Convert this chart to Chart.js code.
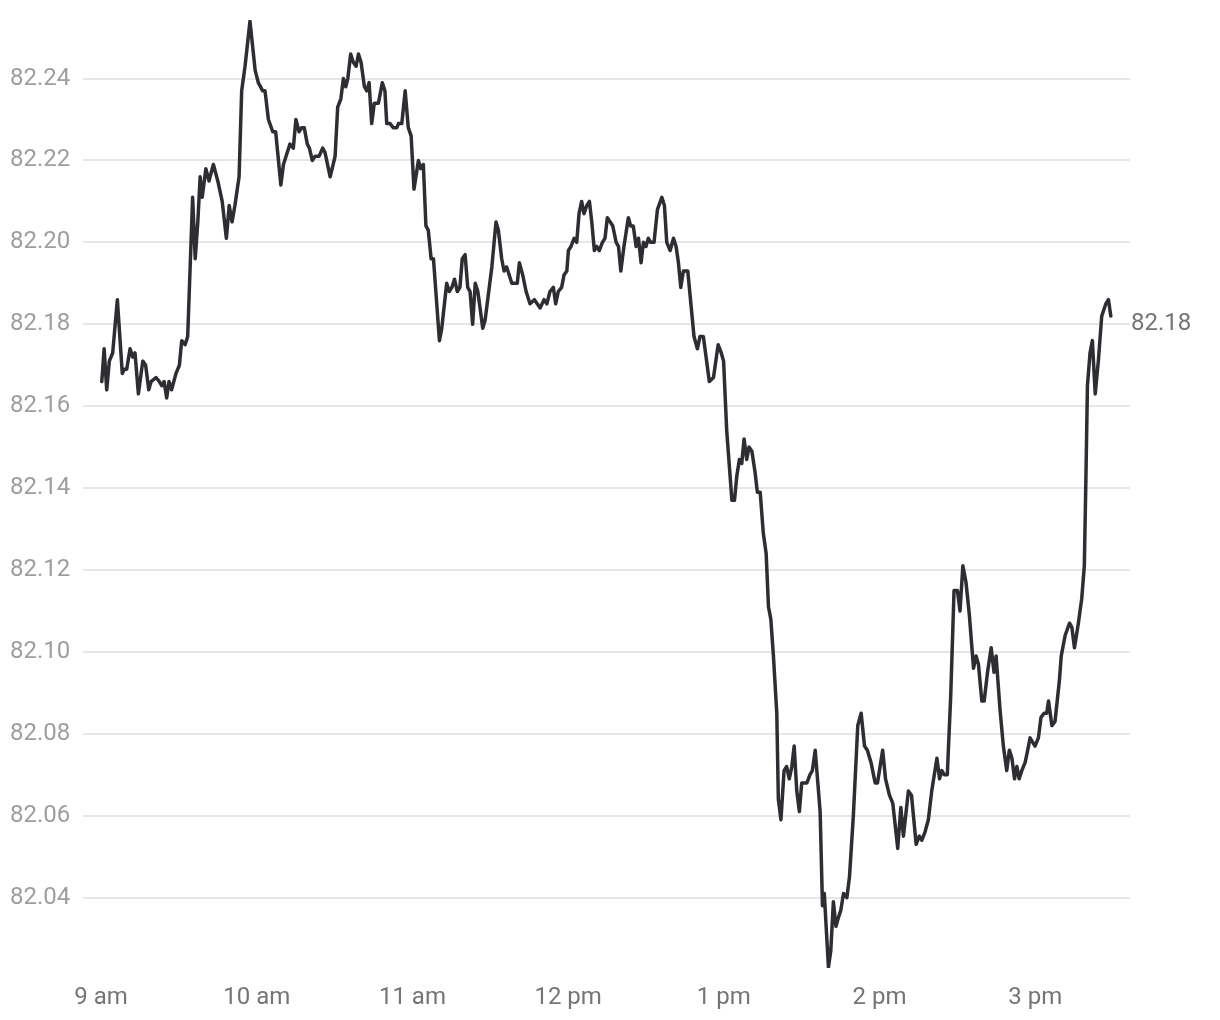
<!DOCTYPE html>
<html>
<head>
<meta charset="utf-8">
<script src="https://cdn.jsdelivr.net/npm/chart.js@4"></script>
<style>
  html, body { margin: 0; padding: 0; background: #fff; }
  .chart-wrap { width: 1220px; height: 1020px; position: relative; }
</style>
</head>
<body>
<div class="chart-wrap"><canvas id="chart-price"></canvas></div>
<script>
// minutes after 9:00 am
const minutes = [
  0.3, 1.2, 2.2, 3.2, 4.5, 6.3, 8.2, 9.0, 9.9, 11.2,
  12.2, 13.1, 14.4, 16.1, 17.2, 18.4, 19.3, 21.2, 22.5, 23.4,
  24.3, 25.3, 26.2, 27.2, 28.9, 30.2, 31.1, 32.4, 33.4, 35.3,
  36.3, 37.3, 38.2, 39.0, 40.4, 41.6, 43.3, 45.0, 46.7, 48.3,
  49.4, 50.5, 51.6, 53.2, 54.2, 55.5, 57.4, 59.4, 60.6, 62.3,
  63.2, 64.5, 66.2, 67.3, 69.3, 70.3, 72.8, 74.1, 75.1, 76.3,
  77.3, 78.3, 79.5, 80.3, 81.4, 82.5, 84.0, 85.4, 86.3, 88.3,
  90.2, 91.2, 92.4, 93.4, 94.3, 95.1, 96.2, 97.2, 98.3, 99.2,
  100.2, 101.5, 102.4, 103.3, 104.3, 105.3, 106.9, 108.4, 109.4, 110.1,
  111.4, 112.6, 114.0, 114.6, 115.9, 117.2, 118.4, 119.5, 120.6, 122.3,
  123.2, 124.2, 125.2, 126.1, 127.2, 128.1, 130.4, 131.3, 133.2, 134.2,
  135.2, 136.2, 137.3, 138.3, 139.2, 140.3, 141.3, 142.2, 143.2, 144.2,
  145.2, 147.1, 148.0, 150.6, 152.2, 153.1, 154.4, 155.3, 156.3, 158.3,
  159.3, 160.4, 161.2, 162.5, 163.8, 165.3, 167.0, 169.2, 170.7, 171.8,
  173.0, 174.3, 175.2, 176.2, 177.5, 178.4, 179.5, 180.1, 181.1, 182.3,
  183.3, 184.2, 185.2, 186.1, 187.2, 188.2, 189.1, 190.1, 191.0, 192.0,
  193.2, 194.2, 195.1, 196.2, 197.2, 198.5, 199.4, 200.3, 201.5, 203.2,
  204.1, 205.1, 206.2, 207.1, 208.1, 209.0, 210.0, 210.9, 211.8, 213.1,
  214.4, 216.1, 217.1, 218.0, 219.3, 220.6, 221.6, 222.5, 223.4, 224.4,
  226.1, 227.6, 228.5, 229.8, 230.8, 232.1, 234.4, 236.0, 237.8, 239.0,
  239.9, 241.1, 243.1, 244.1, 245.0, 246.0, 246.9, 247.8, 248.8, 249.7,
  250.8, 252.0, 252.9, 254.0, 255.2, 256.3, 257.2, 258.1, 259.1, 260.4,
  261.0, 262.0, 263.2, 264.2, 265.2, 266.2, 267.1, 268.1, 269.1, 270.0,
  272.0, 273.2, 274.1, 275.2, 277.1, 278.0, 278.7, 280.3, 281.2, 282.2,
  283.2, 284.1, 285.1, 286.1, 287.4, 288.4, 289.9, 291.6, 292.9, 294.2,
  295.3, 296.7, 298.3, 299.2, 301.2, 302.3, 303.8, 305.1, 307.0, 308.2,
  309.2, 311.1, 312.3, 314.1, 315.3, 316.3, 317.5, 318.8, 320.1, 322.1,
  323.1, 324.0, 324.9, 326.1, 327.4, 328.7, 330.0, 331.0, 332.1, 333.3,
  334.6, 336.2, 337.2, 338.1, 339.4, 340.3, 341.6, 343.0, 344.1, 344.9,
  346.4, 347.7, 349.0, 350.0, 351.0, 352.0, 352.9, 353.8, 354.8, 356.1,
  357.4, 358.0, 359.9, 361.2, 362.2, 363.4, 364.4, 365.1, 366.4, 367.6,
  369.3, 370.0, 371.5, 373.2, 374.1, 375.1, 376.6, 377.9, 378.9, 379.5,
  380.1, 381.1, 382.0, 383.1, 384.3, 385.6, 387.2, 388.2, 389.1
];

const prices = [
  82.166, 82.174, 82.164, 82.171, 82.173, 82.186, 82.168, 82.169, 82.169, 82.174,
  82.172, 82.173, 82.163, 82.171, 82.170, 82.164, 82.166, 82.167, 82.166, 82.165,
  82.166, 82.162, 82.166, 82.164, 82.168, 82.170, 82.176, 82.175, 82.177, 82.211,
  82.196, 82.205, 82.216, 82.211, 82.218, 82.215, 82.219, 82.215, 82.210, 82.201,
  82.209, 82.205, 82.209, 82.216, 82.237, 82.243, 82.254, 82.242, 82.239, 82.237,
  82.237, 82.230, 82.227, 82.227, 82.214, 82.219, 82.224, 82.223, 82.230, 82.227,
  82.228, 82.228, 82.224, 82.223, 82.220, 82.221, 82.221, 82.223, 82.222, 82.216,
  82.221, 82.233, 82.235, 82.240, 82.238, 82.240, 82.246, 82.244, 82.243, 82.246,
  82.244, 82.238, 82.237, 82.239, 82.229, 82.234, 82.234, 82.239, 82.237, 82.229,
  82.229, 82.228, 82.228, 82.229, 82.229, 82.237, 82.228, 82.226, 82.213, 82.220,
  82.218, 82.219, 82.204, 82.203, 82.196, 82.196, 82.176, 82.179, 82.190, 82.188,
  82.189, 82.191, 82.188, 82.189, 82.196, 82.197, 82.189, 82.188, 82.180, 82.190,
  82.188, 82.179, 82.181, 82.194, 82.205, 82.203, 82.196, 82.193, 82.194, 82.190,
  82.190, 82.190, 82.195, 82.192, 82.188, 82.185, 82.186, 82.184, 82.186, 82.185,
  82.188, 82.189, 82.185, 82.188, 82.189, 82.192, 82.193, 82.198, 82.199, 82.201,
  82.200, 82.207, 82.210, 82.207, 82.209, 82.210, 82.205, 82.198, 82.199, 82.198,
  82.200, 82.201, 82.206, 82.205, 82.204, 82.200, 82.199, 82.193, 82.199, 82.206,
  82.204, 82.204, 82.199, 82.201, 82.195, 82.200, 82.199, 82.201, 82.200, 82.200,
  82.208, 82.211, 82.209, 82.200, 82.198, 82.201, 82.199, 82.195, 82.189, 82.193,
  82.193, 82.183, 82.177, 82.174, 82.177, 82.177, 82.166, 82.167, 82.175, 82.173,
  82.171, 82.154, 82.137, 82.137, 82.143, 82.147, 82.146, 82.152, 82.147, 82.150,
  82.149, 82.144, 82.139, 82.139, 82.129, 82.124, 82.111, 82.108, 82.099, 82.085,
  82.064, 82.059, 82.071, 82.072, 82.069, 82.072, 82.077, 82.066, 82.061, 82.068,
  82.068, 82.070, 82.071, 82.076, 82.061, 82.038, 82.041, 82.023, 82.027, 82.039,
  82.033, 82.035, 82.037, 82.041, 82.040, 82.045, 82.060, 82.082, 82.085, 82.077,
  82.076, 82.073, 82.068, 82.068, 82.076, 82.069, 82.065, 82.063, 82.052, 82.062,
  82.055, 82.066, 82.065, 82.053, 82.055, 82.054, 82.056, 82.059, 82.066, 82.074,
  82.069, 82.071, 82.070, 82.070, 82.089, 82.115, 82.115, 82.110, 82.121, 82.117,
  82.109, 82.096, 82.099, 82.097, 82.088, 82.088, 82.095, 82.101, 82.095, 82.099,
  82.086, 82.077, 82.071, 82.076, 82.074, 82.069, 82.072, 82.069, 82.071, 82.073,
  82.077, 82.079, 82.077, 82.079, 82.084, 82.085, 82.085, 82.088, 82.082, 82.083,
  82.093, 82.099, 82.104, 82.107, 82.106, 82.101, 82.107, 82.113, 82.121, 82.142,
  82.165, 82.173, 82.176, 82.163, 82.171, 82.182, 82.185, 82.186, 82.182
];

const hourTicks = [0, 60, 120, 180, 240, 300, 360];
const hourLabels = ['9 am', '10 am', '11 am', '12 pm', '1 pm', '2 pm', '3 pm'];
const priceTicks = [82.04, 82.06, 82.08, 82.10, 82.12, 82.14, 82.16, 82.18, 82.20, 82.22, 82.24];

function drawChart() {
  const lastPrice = Math.round(prices[prices.length - 1] * 100) / 100;
  const yMin = 82.0228, yMax = 82.2543;
  const tickFont = { family: 'Roboto', size: 24 };

  new Chart(document.getElementById('chart-price'), {
    type: 'line',
    data: {
      datasets: [{
        data: minutes.map((m, i) => ({ x: m, y: prices[i] })),
        borderColor: '#2e2e32',
        borderWidth: 3.5,
        borderJoinStyle: 'round',
        borderCapStyle: 'round',
        pointRadius: 0,
        tension: 0,
        fill: false
      }]
    },
    options: {
      responsive: true, maintainAspectRatio: false, animation: false,
      layout: { padding: { left: 10, top: 20, right: 0, bottom: 0 } },
      plugins: { legend: { display: false }, tooltip: { enabled: false } },
      scales: {
        x: {
          type: 'linear', min: -6.94, max: 396.5,
          grid: { display: false, drawTicks: false },
          border: { display: false },
          afterBuildTicks: s => { s.ticks = hourTicks.map(v => ({ value: v })); },
          afterFit: s => { s.height = 52; },
          ticks: {
            autoSkip: false, maxRotation: 0, padding: 16,
            color: '#757575', font: tickFont,
            callback: (v, i) => hourLabels[i]
          }
        },
        y: {
          position: 'left', min: yMin, max: yMax,
          grid: { color: '#e6e6e6', lineWidth: 2, drawTicks: false },
          border: { display: false },
          afterBuildTicks: s => { s.ticks = priceTicks.map(v => ({ value: v })); },
          afterFit: s => { s.width = 73; },
          ticks: {
            crossAlign: 'far', padding: 0,
            color: '#9e9e9e', font: tickFont,
            callback: v => v.toFixed(2)
          }
        },
        yLast: {
          position: 'right', min: yMin, max: yMax,
          grid: { display: false, drawTicks: false },
          border: { display: false },
          afterBuildTicks: s => { s.ticks = [{ value: lastPrice }]; },
          afterFit: s => { s.width = 90; },
          ticks: {
            padding: 1,
            color: '#757575', font: tickFont,
            callback: v => v.toFixed(2)
          }
        }
      }
    }
  });
}

if (document.fonts && document.fonts.load) {
  document.fonts.load('24px Roboto').then(drawChart, drawChart);
} else {
  drawChart();
}
</script>
</body>
</html>
